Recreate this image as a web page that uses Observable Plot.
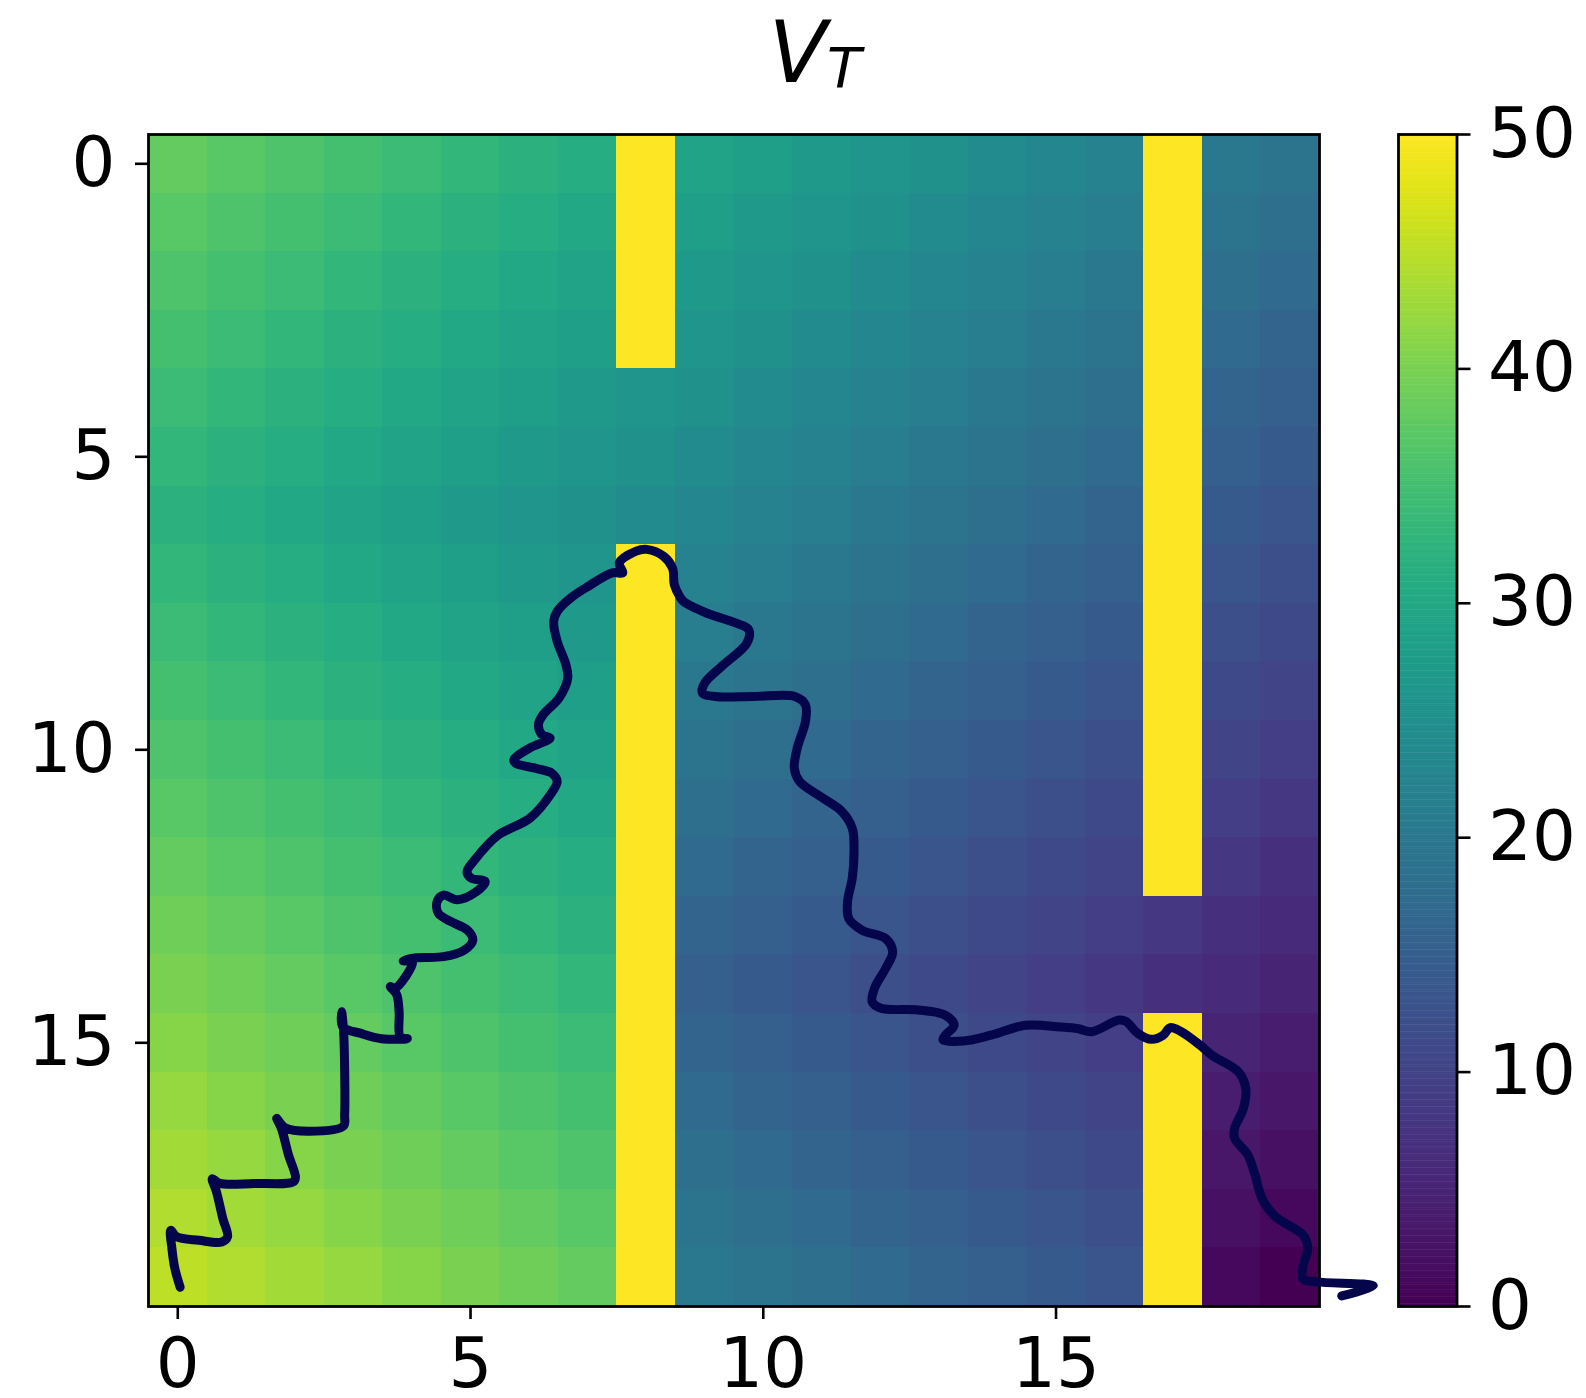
<!DOCTYPE html>
<html>
<head>
<meta charset="utf-8">
<script src="https://cdn.jsdelivr.net/npm/d3@7"></script>
<script src="https://cdn.jsdelivr.net/npm/@observablehq/plot@0.6"></script>
<style>
html, body { margin: 0; padding: 0; background: #fff; }
#wrap { position: relative; width: 1586px; height: 1398px; overflow: hidden; font-family: "DejaVu Sans", sans-serif; }
#title { position: absolute; left: 815px; top: 10px; transform: translateX(-50%); font-family: "DejaVu Sans", sans-serif; font-style: italic; font-size: 85px; line-height: 85px; white-space: nowrap; color: #000; }
#title .sub { font-size: 56px; position: relative; top: 5px; }
#main, #cbar { position: absolute; top: 0; }
#main { left: 0; }
#cbar { left: 1380px; }
</style>
</head>
<body>
<div id="wrap">
  <div id="title">V<span class="sub">T</span></div>
  <div id="main"></div>
  <div id="cbar"></div>
</div>
<script>
// V_T values, one array per grid row (row 0 at top); 50 = wall cells (yellow)
const vt = [
  [38,37,36,35,34,33,32,31,50,29,28,27,26,25,24,23,22,50,20,19],
  [37,36,35,34,33,32,31,30,50,28,27,26,25,24,23,22,21,50,19,18],
  [36,35,34,33,32,31,30,29,50,27,26,25,24,23,22,21,20,50,18,17],
  [35,34,33,32,31,30,29,28,50,26,25,24,23,22,21,20,19,50,17,16],
  [34,33,32,31,30,29,28,27,26,25,24,23,22,21,20,19,18,50,16,15],
  [33,32,31,30,29,28,27,26,25,24,23,22,21,20,19,18,17,50,15,14],
  [32,31,30,29,28,27,26,25,24,23,22,21,20,19,18,17,16,50,14,13],
  [33,32,31,30,29,28,27,26,50,22,21,20,19,18,17,16,15,50,13,12],
  [34,33,32,31,30,29,28,27,50,21,20,19,18,17,16,15,14,50,12,11],
  [35,34,33,32,31,30,29,28,50,20,19,18,17,16,15,14,13,50,11,10],
  [36,35,34,33,32,31,30,29,50,19,18,17,16,15,14,13,12,50,10,9],
  [37,36,35,34,33,32,31,30,50,18,17,16,15,14,13,12,11,50,9,8],
  [38,37,36,35,34,33,32,31,50,17,16,15,14,13,12,11,10,50,8,7],
  [39,38,37,36,35,34,33,32,50,16,15,14,13,12,11,10,9,8,7,6],
  [40,39,38,37,36,35,34,33,50,15,14,13,12,11,10,9,8,7,6,5],
  [41,40,39,38,37,36,35,34,50,16,15,14,13,12,11,10,9,50,5,4],
  [42,41,40,39,38,37,36,35,50,17,16,15,14,13,12,11,10,50,4,3],
  [43,42,41,40,39,38,37,36,50,18,17,16,15,14,13,12,11,50,3,2],
  [44,43,42,41,40,39,38,37,50,19,18,17,16,15,14,13,12,50,2,1],
  [45,44,43,42,41,40,39,38,50,20,19,18,17,16,15,14,13,50,1,0]
];

// Trajectory (grid coordinates)
const pathX = [0.04,-0.05,-0.10,-0.12,-0.02,0.36,0.75,0.85,0.77,0.66,0.59,0.72,1.30,1.98,2.01,1.89,1.77,1.69,1.83,2.24,2.83,2.85,2.85,2.83,2.80,2.82,3.13,3.48,3.92,3.80,3.78,3.74,3.63,3.71,4.01,3.85,4.05,4.54,4.89,5.04,4.95,4.66,4.45,4.43,4.54,4.77,5.10,5.25,5.01,4.94,5.07,5.48,5.69,6.01,6.36,6.48,6.39,6.13,5.77,5.74,6.01,6.36,6.22,6.16,6.24,6.51,6.66,6.63,6.48,6.42,6.48,6.71,7.01,7.42,7.60,7.54,7.83,8.01,8.30,8.45,8.48,8.57,8.64,9.04,9.54,9.75,9.72,9.32,9.00,8.96,9.18,9.83,10.54,10.72,10.72,10.58,10.53,10.62,10.98,11.34,11.52,11.55,11.52,11.44,11.46,11.69,12.09,12.21,12.09,11.90,11.86,12.01,12.64,13.11,13.26,13.11,13.07,13.42,13.89,14.48,15.07,15.38,15.61,16.08,16.20,16.40,16.63,16.83,16.95,17.14,17.46,17.66,18.12,18.24,18.20,18.05,18.05,18.28,18.40,18.52,18.75,19.22,19.30,19.22,19.22,19.46,20.42,19.88];
const pathY = [19.17,18.85,18.51,18.20,18.31,18.37,18.40,18.31,18.00,17.54,17.32,17.40,17.40,17.37,17.29,16.91,16.46,16.29,16.45,16.51,16.42,16.23,15.44,14.76,14.47,14.73,14.84,14.93,14.93,14.90,14.47,14.18,14.04,14.07,13.62,13.60,13.55,13.53,13.42,13.25,13.08,12.93,12.79,12.59,12.48,12.56,12.42,12.25,12.19,12.08,11.88,11.45,11.34,11.17,10.77,10.54,10.40,10.32,10.23,10.17,9.97,9.80,9.74,9.57,9.40,9.12,8.78,8.55,8.15,7.81,7.64,7.41,7.21,6.98,6.98,6.81,6.61,6.58,6.70,6.90,7.18,7.38,7.47,7.67,7.84,7.95,8.18,8.55,8.86,9.03,9.09,9.09,9.09,9.23,9.52,9.97,10.32,10.54,10.80,11.05,11.34,11.74,12.19,12.59,12.88,13.08,13.22,13.45,13.73,14.07,14.30,14.41,14.44,14.53,14.70,14.87,14.95,14.97,14.87,14.70,14.73,14.76,14.81,14.61,14.64,14.84,14.94,14.87,14.74,14.81,15.04,15.21,15.50,15.78,16.12,16.46,16.63,16.92,17.26,17.66,17.97,18.28,18.51,18.80,19.03,19.08,19.15,19.32];

const axisTicks = [0, 5, 10, 15];
const cbarTicks = [0, 10, 20, 30, 40, 50];
const vMin = 0, vMax = 50;

const cells = vt.flatMap((row, r) => row.map((v, c) => ({r, c, v})));
const path = pathX.map((x, i) => ({x, y: pathY[i]}));

const font = {fontFamily: "DejaVu Sans", fontSize: 69, fill: "black"};

const main = Plot.plot({
  width: 1380,
  height: 1398,
  marginLeft: 148,
  marginRight: 61,
  marginTop: 134,
  marginBottom: 92,
  style: {fontFamily: "DejaVu Sans", background: "transparent", overflow: "visible"},
  x: {domain: [-0.5, 19.5], axis: null},
  y: {domain: [-0.5, 19.5], reverse: true, axis: null},
  color: {type: "linear", scheme: "viridis", domain: [vMin, vMax]},
  marks: [
    Plot.rect(cells, {
      x1: d => d.c - 0.5, x2: d => d.c + 0.5,
      y1: d => d.r - 0.5, y2: d => d.r + 0.5,
      fill: "v", shapeRendering: "crispEdges"
    }),
    Plot.frame({stroke: "black", strokeWidth: 2.8}),
    Plot.axisX({ticks: axisTicks, anchor: "bottom", tickSize: 13, tickPadding: 18, strokeWidth: 2.6, label: null, ...font}),
    Plot.axisY({ticks: axisTicks, anchor: "left", tickSize: 13, tickPadding: 20, strokeWidth: 2.6, label: null, ...font}),
    Plot.line(path, {x: "x", y: "y", stroke: "#04054b", strokeWidth: 9, strokeLinejoin: "round", strokeLinecap: "round", curve: "catmull-rom"})
  ]
});
document.getElementById("main").appendChild(main);

const ramp = d3.range(vMin, vMax, 0.1).map(v => ({v}));
const cbar = Plot.plot({
  width: 206,
  height: 1398,
  marginLeft: 18,
  marginRight: 129.5,
  marginTop: 134,
  marginBottom: 92,
  style: {fontFamily: "DejaVu Sans", background: "transparent", overflow: "visible"},
  x: {domain: [0, 1], axis: null},
  y: {domain: [vMin, vMax], axis: null},
  color: {type: "linear", scheme: "viridis", domain: [vMin, vMax]},
  marks: [
    Plot.rect(ramp, {x1: 0, x2: 1, y1: d => d.v, y2: d => d.v + 0.12, fill: "v"}),
    Plot.frame({stroke: "black", strokeWidth: 2.8}),
    Plot.axisY({ticks: cbarTicks, anchor: "right", tickSize: 13, tickPadding: 18, strokeWidth: 2.6, label: null, ...font})
  ]
});
document.getElementById("cbar").appendChild(cbar);
</script>
</body>
</html>
